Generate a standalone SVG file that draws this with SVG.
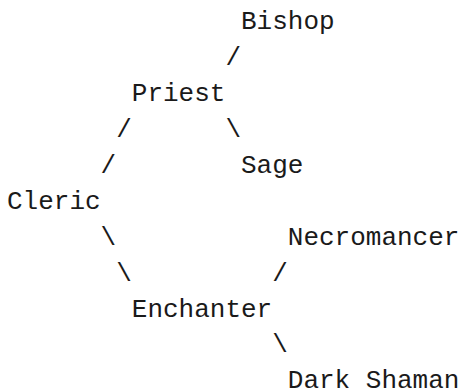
<svg xmlns="http://www.w3.org/2000/svg" width="463" height="390" viewBox="0 0 463 390">
<style>
text { font-family: "Liberation Mono", "Courier New", monospace; font-size: 26px; fill: #1a1a1a; }
</style>
<rect width="463" height="390" fill="#fff"/>
<g id="connectors">
  <text x="225.4" y="64.9">/</text>
  <text x="116.2" y="136.7">/</text>
  <text x="225.4" y="136.7">\</text>
  <text x="100.6" y="172.6">/</text>
  <text x="100.6" y="244.9">\</text>
  <text x="116.2" y="280.8">\</text>
  <text x="272.2" y="280.8">/</text>
  <text x="272.2" y="352.4">\</text>
</g>
<g id="bishop"><text x="241" y="29">Bishop</text></g>
<g id="priest"><text x="131.8" y="100.8">Priest</text></g>
<g id="sage"><text x="241" y="172.6">Sage</text></g>
<g id="cleric"><text x="7" y="208.5">Cleric</text></g>
<g id="necromancer"><text x="287.8" y="245">Necromancer</text></g>
<g id="enchanter"><text x="131.8" y="316.5">Enchanter</text></g>
<g id="dark-shaman"><text x="287.8" y="388">Dark Shaman</text></g>
</svg>
